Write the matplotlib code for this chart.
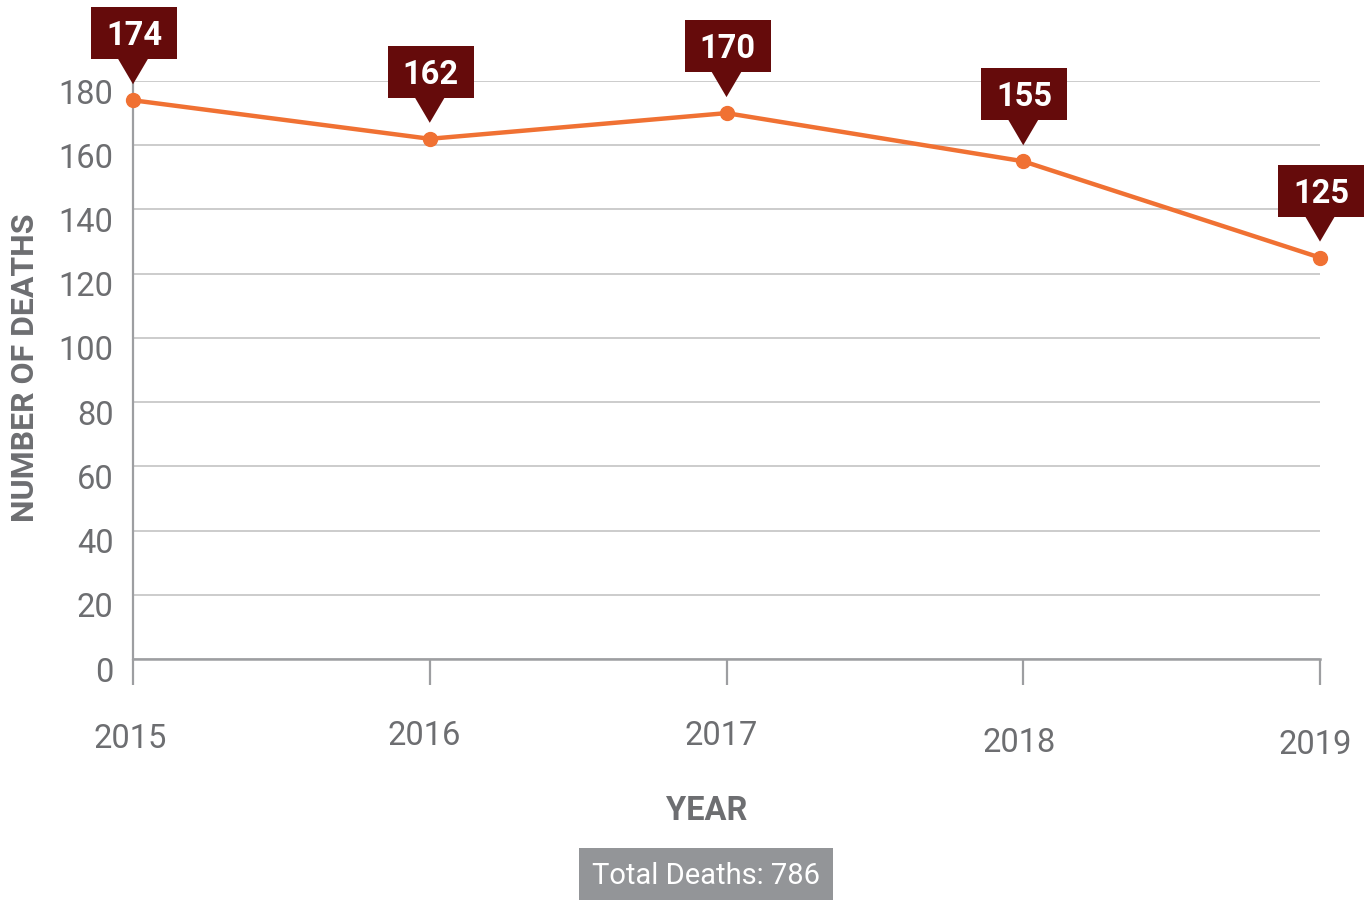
import matplotlib.pyplot as plt
import matplotlib.patches as mpatches
from matplotlib.transforms import ScaledTranslation

plt.rcParams['font.family'] = ['Roboto', 'DejaVu Sans']

# data
years = [2015, 2016, 2017, 2018, 2019]
deaths = [174, 162, 170, 155, 125]
y_ticks = [0, 20, 40, 60, 80, 100, 120, 140, 160, 180]
total_label = 'Total Deaths: 786'

ORANGE = '#f07133'
DARK_RED = '#650b0b'
TEXT_GRAY = '#6d6e71'
GRID = '#cccccc'
AXIS = '#9d9ea1'

W, H = 1369, 901
fig = plt.figure(figsize=(W / 100, H / 100), dpi=100)
ax = fig.add_axes([133 / W, 1 - 659 / H, (1320 - 133) / W, (659 - 81) / H])

ax.set_xlim(years[0], years[-1])
ax.set_ylim(0, 180)
ax.set_yticks(y_ticks)
ax.set_xticks(years)
ax.set_xticklabels([])
ax.grid(axis='y', color=GRID, linewidth=1.4)
ax.set_axisbelow(True)

for s in ['top', 'right']:
    ax.spines[s].set_visible(False)
ax.spines['left'].set_color(AXIS)
ax.spines['left'].set_linewidth(1.6)
ax.spines['bottom'].set_color(AXIS)
ax.spines['bottom'].set_linewidth(1.8)
ax.tick_params(axis='x', length=19, width=1.6, color=AXIS, direction='out')
ax.tick_params(axis='y', length=0, pad=14, labelsize=23.5, labelcolor=TEXT_GRAY)

# shift y labels down a bit like the original
down = ScaledTranslation(0, -10 / 100, fig.dpi_scale_trans)
for lab in ax.get_yticklabels():
    lab.set_transform(lab.get_transform() + down)

# x labels (slightly uneven in the original)
label_dx = [-3, -6, -5, -4, -5]
label_dy = [-80, -77, -77, -84, -86]
for yr, dx, dy in zip(years, label_dx, label_dy):
    tr = ax.get_xaxis_transform() + ScaledTranslation(dx / 100, dy / 100, fig.dpi_scale_trans)
    ax.text(yr, 0, str(yr), transform=tr, ha='center', va='center',
            fontsize=23.5, color=TEXT_GRAY, clip_on=False)

ax.plot(years, deaths, color=ORANGE, linewidth=3.2, marker='o', markersize=10,
        clip_on=False, zorder=3)

# callout boxes above each point
for yr, v in zip(years, deaths):
    tr = fig.dpi_scale_trans + ScaledTranslation(yr, v, ax.transData)
    box = mpatches.Rectangle((-0.42, 0.41), 0.86, 0.52, transform=tr,
                             facecolor=DARK_RED, edgecolor='none', clip_on=False, zorder=4)
    tri = mpatches.Polygon([(-0.15, 0.415), (0.15, 0.415), (0.0, 0.16)], closed=True,
                           transform=tr, facecolor=DARK_RED, edgecolor='none',
                           clip_on=False, zorder=4)
    ax.add_patch(box)
    ax.add_patch(tri)
    ax.text(0.01, 0.64, str(v), transform=tr, ha='center', va='center',
            fontsize=23.5, fontweight='bold', color='white', zorder=5, clip_on=False)

fig.text(25 / W, 1 - 368 / H, 'NUMBER OF DEATHS', rotation=90, ha='center', va='center',
         fontsize=23, fontweight='bold', color=TEXT_GRAY)
fig.text(707 / W, 1 - 811 / H, 'YEAR', ha='center', va='center',
         fontsize=23.5, fontweight='bold', color=TEXT_GRAY)

fig.patches.append(mpatches.Rectangle((579 / W, 1 - 900 / H), 254 / W, 52 / H,
                                      transform=fig.transFigure, facecolor='#939598',
                                      edgecolor='none'))
fig.text(706 / W, 1 - 876 / H, total_label, ha='center', va='center',
         fontsize=21, color='white')

fig.savefig('out.png', dpi=100)
